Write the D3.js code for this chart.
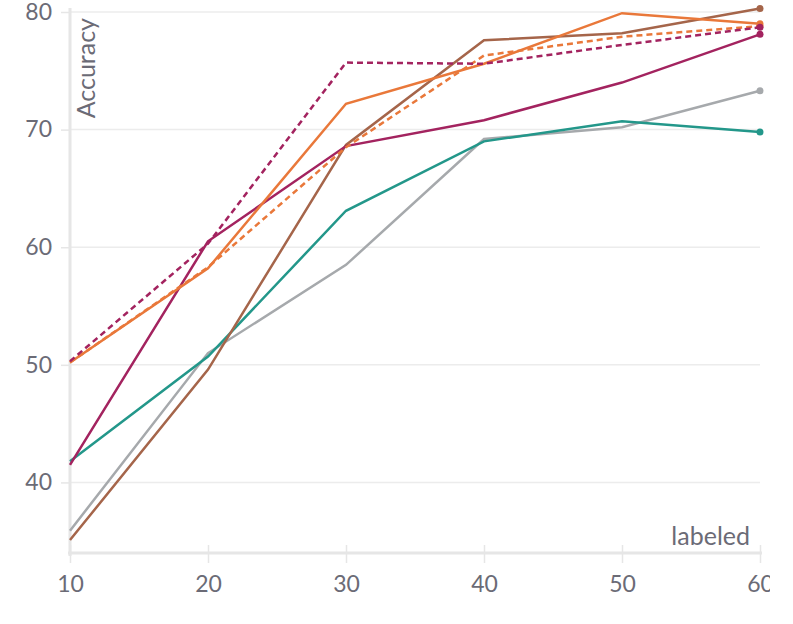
<!DOCTYPE html>
<html><head><meta charset="utf-8">
<script src="https://cdn.jsdelivr.net/npm/d3@7"></script>
<style>body{margin:0;background:#fff;} svg{display:block;}</style>
</head><body>
<svg id="c" width="770" height="624"></svg>
<script>
const xValues = [10, 20, 30, 40, 50, 60];
const brown = [35.1, 49.6, 68.7, 77.6, 78.2, 80.3];
const gray = [35.9, 51.0, 58.5, 69.2, 70.2, 73.3];
const teal = [41.8, 50.7, 63.1, 69.0, 70.7, 69.8];
const magenta = [41.5, 60.5, 68.6, 70.8, 74.0, 78.1];
const magentaDashed = [50.3, 60.3, 75.7, 75.6, 77.2, 78.7];
const orange = [50.2, 58.2, 72.2, 75.6, 79.9, 79.0];
const orangeDashed = [50.2, 58.3, 68.5, 76.3, 77.9, 78.8];
const xTicks = [10, 20, 30, 40, 50, 60];
const yTicks = [40, 50, 60, 70, 80];

const seriesList = [
  {v: gray, c: "#a6a9ac", d: null},
  {v: teal, c: "#23978a", d: null},
  {v: brown, c: "#a5654a", d: null},
  {v: magenta, c: "#a3235f", d: null},
  {v: orange, c: "#e9783a", d: null},
  {v: orangeDashed, c: "#e9783a", d: "6,4"},
  {v: magentaDashed, c: "#a3235f", d: "6,4"}
];

const svg = d3.select("#c");
const x = d3.scaleLinear().domain([10, 60]).range([70, 760]);
const y = d3.scaleLinear().domain([34, 80]).range([553, 12]);
const font = "Lato,'Source Sans Pro',sans-serif";
const textColor = "#6b6b76";

// grid
svg.append("g").selectAll("line").data(yTicks).join("line")
  .attr("x1", 70).attr("x2", 760).attr("y1", d => y(d)).attr("y2", d => y(d))
  .attr("stroke", "#ececec").attr("stroke-width", 1.5);

// y axis
const yAxis = svg.append("g").attr("transform", "translate(70,0)")
  .call(d3.axisLeft(y).tickValues(yTicks).tickSize(9).tickPadding(9));
yAxis.select(".domain").attr("stroke", "#e6e6e6").attr("stroke-width", 3).attr("d", "M0,8V556");
yAxis.selectAll(".tick line").attr("stroke", "#e6e6e6").attr("stroke-width", 1.5);
yAxis.selectAll("text").attr("fill", textColor).style("font-family", font).style("font-size", "23px");

// x axis
const xAxis = svg.append("g").attr("transform", "translate(0,553)")
  .call(d3.axisBottom(x).tickValues(xTicks).tickSize(10).tickPadding(13));
xAxis.select(".domain").attr("stroke", "#e6e6e6").attr("stroke-width", 3).attr("d", "M68,0H762");
xAxis.selectAll(".tick line").attr("stroke", "#e6e6e6").attr("stroke-width", 1.5).attr("y1", -8);
xAxis.selectAll("text").attr("fill", textColor).style("font-family", font).style("font-size", "23px");

// lines
const line = d3.line().x((d, i) => x(xValues[i])).y(d => y(d));
seriesList.forEach(s => {
  svg.append("path").attr("d", line(s.v)).attr("fill", "none")
    .attr("stroke", s.c).attr("stroke-width", 2.5)
    .attr("stroke-dasharray", s.d);
  svg.append("circle").attr("cx", x(xValues[5])).attr("cy", y(s.v[5])).attr("r", 3.5).attr("fill", s.c);
});

// axis titles
svg.append("text").attr("transform", `translate(${95},18) rotate(-90)`)
  .attr("text-anchor", "end").attr("fill", textColor)
  .style("font-family", font).style("font-size", "25px").text("Accuracy");
svg.append("text").attr("x", 750).attr("y", 545).attr("text-anchor", "end").attr("fill", textColor)
  .style("font-family", font).style("font-size", "25px").text("labeled");
</script>
</body></html>
